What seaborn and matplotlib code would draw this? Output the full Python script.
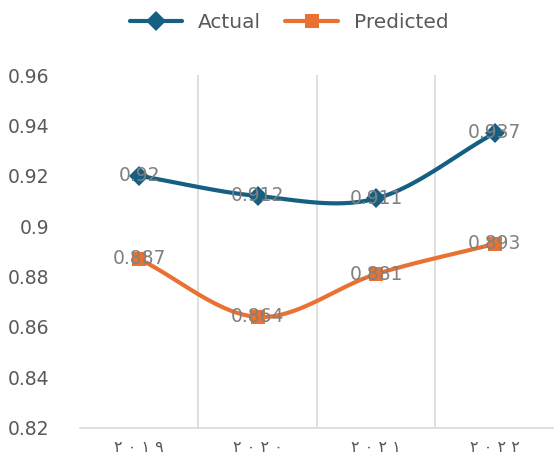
import numpy as np
import pandas as pd
import matplotlib
matplotlib.use("Agg")
import matplotlib.pyplot as plt
import seaborn as sns

# chart data
years = ["٢ ٠ ١ ٩", "٢ ٠ ٢ ٠", "٢ ٠ ٢ ١", "٢ ٠ ٢ ٢"]
actual = [0.92, 0.912, 0.911, 0.937]
predicted = [0.887, 0.864, 0.881, 0.893]
y_ticks = [0.82, 0.84, 0.86, 0.88, 0.9, 0.92, 0.94, 0.96]
y_tick_labels = ["0.82", "0.84", "0.86", "0.88", "0.9", "0.92", "0.94", "0.96"]

BLUE = "#156082"
ORANGE = "#e97132"
GRAY = "#595959"


def smooth(xs, ys, n=40):
    # Catmull-Rom curve through the points, like Excel's smoothed line
    xs = np.asarray(xs, float)
    ys = np.asarray(ys, float)
    px = np.concatenate([[2 * xs[0] - xs[1]], xs, [2 * xs[-1] - xs[-2]]])
    py = np.concatenate([[2 * ys[0] - ys[1]], ys, [2 * ys[-1] - ys[-2]]])
    out_x, out_y = [], []
    t = np.linspace(0, 1, n)
    for i in range(1, len(px) - 2):
        for p, out in ((px, out_x), (py, out_y)):
            p0, p1, p2, p3 = p[i - 1], p[i], p[i + 1], p[i + 2]
            out.extend(0.5 * ((2 * p1) + (-p0 + p2) * t
                              + (2 * p0 - 5 * p1 + 4 * p2 - p3) * t ** 2
                              + (-p0 + 3 * p1 - 3 * p2 + p3) * t ** 3))
    return np.array(out_x), np.array(out_y)


def main():
    sns.set_style("white")
    plt.rcParams["font.family"] = ["DejaVu Sans"]

    df = pd.DataFrame({"x": np.arange(len(years)), "Actual": actual, "Predicted": predicted})

    fig = plt.figure(figsize=(5.54, 4.66), dpi=100)
    ax = fig.add_axes([0.144, 0.082, 0.856, 0.757])

    series = [("Actual", BLUE, "D", 10), ("Predicted", ORANGE, "s", 10)]
    for name, color, marker, ms in series:
        sx, sy = smooth(df["x"], df[name])
        sns.lineplot(x=sx, y=sy, ax=ax, color=color, linewidth=3, sort=False,
                     solid_capstyle="round", zorder=3)
        sns.lineplot(data=df, x="x", y=name, ax=ax, color=color, linewidth=0,
                     marker=marker, markersize=ms, markeredgewidth=0, zorder=4)
        for xi, yi in zip(df["x"], df[name]):
            ax.text(xi, yi, f"{yi:g}", ha="center", va="center", fontsize=13.5,
                    color="#808080", zorder=5)

    ax.set_xlim(-0.5, len(years) - 0.5)
    ax.set_ylim(0.82, 0.96)
    ax.set_yticks(y_ticks)
    ax.set_yticklabels(y_tick_labels, fontsize=13.5, color=GRAY)
    ax.set_xticks(np.arange(len(years)))
    ax.set_xticklabels(years, fontsize=11.5, color=GRAY)
    ax.tick_params(axis="y", length=0, pad=22)
    ax.tick_params(axis="x", length=0, pad=9)
    ax.set_xlabel("")
    ax.set_ylabel("")

    # vertical grid lines between categories
    for b in np.arange(0.5, len(years) - 0.5, 1):
        ax.axvline(b, color="#d9d9d9", linewidth=1.2, zorder=1)

    for side in ["top", "right", "left"]:
        ax.spines[side].set_visible(False)
    ax.spines["bottom"].set_color("#d9d9d9")
    ax.spines["bottom"].set_linewidth(1.2)

    handles = [plt.Line2D([], [], color=c, linewidth=3, marker=m, markersize=ms,
                          markeredgewidth=0, solid_capstyle="round")
               for _, c, m, ms in series]
    fig.legend(handles, [s[0] for s in series], loc="center",
               bbox_to_anchor=(0.522, 0.952), ncol=2, frameon=False, fontsize=14.5,
               labelcolor=GRAY, handlelength=2.6, handletextpad=0.8,
               columnspacing=1.2)

    fig.savefig("out.png", dpi=100)


if __name__ == "__main__":
    main()
